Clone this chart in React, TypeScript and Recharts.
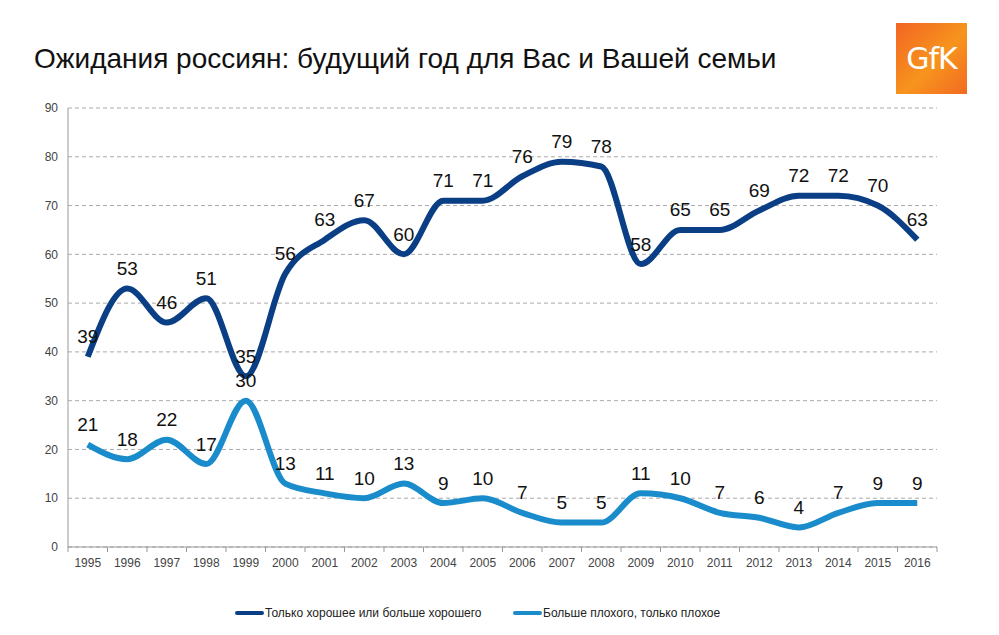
import { LineChart, Line, XAxis, YAxis, CartesianGrid, LabelList } from 'recharts';

const years = ['1995', '1996', '1997', '1998', '1999', '2000', '2001', '2002', '2003', '2004', '2005', '2006', '2007', '2008', '2009', '2010', '2011', '2012', '2013', '2014', '2015', '2016'];
const good = [39, 53, 46, 51, 35, 56, 63, 67, 60, 71, 71, 76, 79, 78, 58, 65, 65, 69, 72, 72, 70, 63];
const bad = [21, 18, 22, 17, 30, 13, 11, 10, 13, 9, 10, 7, 5, 5, 11, 10, 7, 6, 4, 7, 9, 9];
const yTicks = [0, 10, 20, 30, 40, 50, 60, 70, 80, 90];

const goodName = 'Только хорошее или больше хорошего';
const badName = 'Больше плохого, только плохое';
const title = 'Ожидания россиян: будущий год для Вас и Вашей семьи';

const DARK = '#0b3f85';
const LIGHT = '#1a8ccc';
const FONT = '"Liberation Sans", Arial, sans-serif';

const data = years.map((y, i) => ({ year: y, good: good[i], bad: bad[i] }));

const HALF = 869 / 22 / 2;

const XTick = (props: any) => {
  const { x, y, payload, index } = props;
  const top = y - 8;
  return (
    <g>
      <line x1={x - HALF} x2={x - HALF} y1={top} y2={top + 5} stroke="#999" />
      {index === years.length - 1 && (
        <line x1={x + HALF} x2={x + HALF} y1={top} y2={top + 5} stroke="#999" />
      )}
      <text x={x} y={top + 16} textAnchor="middle" dominantBaseline="central" fontSize={12} fill="#444" fontFamily={FONT}>
        {payload.value}
      </text>
    </g>
  );
};

const valueLabel = (props: any) => {
  const { x, y, value } = props;
  return (
    <text x={x} y={y - 20} textAnchor="middle" dominantBaseline="central" fontSize={19} fill="#111" fontFamily={FONT}>
      {value}
    </text>
  );
};

const LegendItem = ({ color, text, left }: { color: string; text: string; left: number }) => (
  <div style={{ position: 'absolute', left, top: 606, display: 'flex', alignItems: 'center' }}>
    <span style={{ width: 29, height: 4, borderRadius: 2, background: color, display: 'inline-block' }} />
    <span style={{ fontSize: 12, color: '#222', marginLeft: 1 }}>{text}</span>
  </div>
);

export default function App() {
  return (
    <div style={{ position: 'absolute', left: 0, top: 0, width: 999, height: 635, background: '#fff', fontFamily: FONT }}>
      <div style={{ position: 'absolute', left: 34, top: 43, fontSize: 28, color: '#111', whiteSpace: 'nowrap' }}>{title}</div>
      <div
        style={{
          position: 'absolute', left: 896, top: 23, width: 71, height: 71,
          background: 'linear-gradient(135deg, #f26522 0%, #f7941d 55%, #f26a21 100%)',
          color: '#fff', display: 'flex', alignItems: 'center', justifyContent: 'center',
          fontSize: 30, letterSpacing: -1, fontFamily: '"DejaVu Sans", sans-serif',
        }}
      >
        GfK
      </div>
      <LineChart width={999} height={635} data={data} margin={{ top: 108, right: 62, bottom: 58, left: 28 }}>
        <CartesianGrid vertical={false} stroke="#aaa" strokeDasharray="4 3" />
        <XAxis
          dataKey="year"
          height={30}
          padding={{ left: HALF, right: HALF }}
          stroke="#999"
          tickLine={false}
          tick={<XTick />}
          interval={0}
          tickSize={0}
          tickMargin={8}
        />
        <YAxis
          width={40}
          domain={[0, 90]}
          ticks={yTicks}
          stroke="#999"
          tickLine={false}
          tickSize={0}
          tickMargin={10}
          tick={{ fontSize: 12, fill: '#444', fontFamily: FONT }}
          interval={0}
        />
        <Line dataKey="good" name={goodName} type="monotone" stroke={DARK} strokeWidth={6} dot={false} isAnimationActive={false}>
          <LabelList dataKey="good" content={valueLabel} />
        </Line>
        <Line dataKey="bad" name={badName} type="monotone" stroke={LIGHT} strokeWidth={6} dot={false} isAnimationActive={false}>
          <LabelList dataKey="bad" content={valueLabel} />
        </Line>
      </LineChart>
      <LegendItem color={DARK} text={goodName} left={235} />
      <LegendItem color={LIGHT} text={badName} left={513} />
    </div>
  );
}
